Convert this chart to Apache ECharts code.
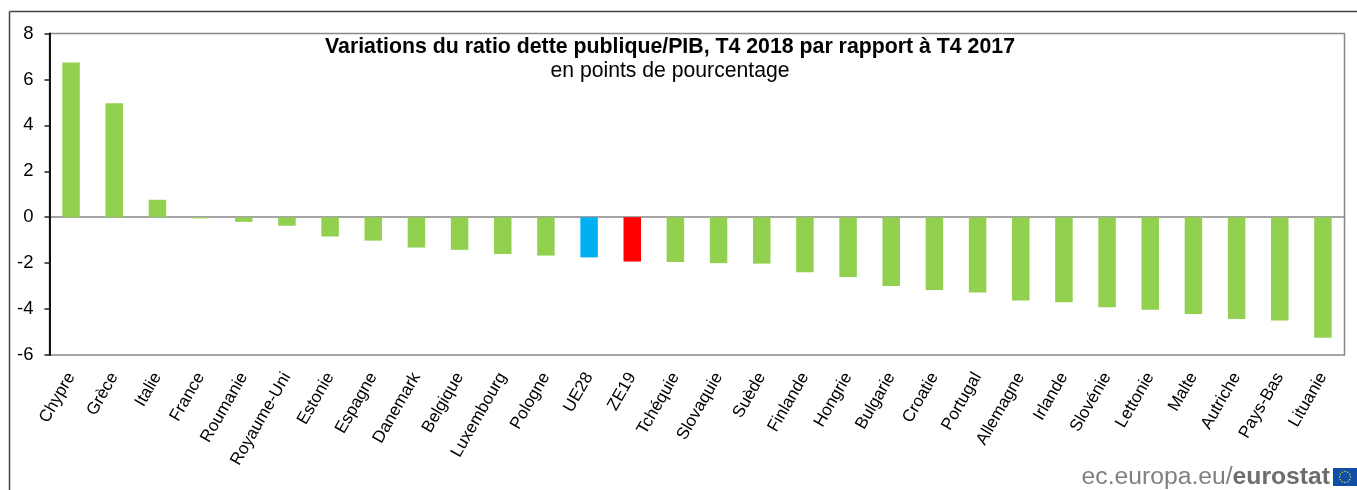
<!DOCTYPE html>
<html>
<head>
<meta charset="utf-8">
<script src="https://cdn.jsdelivr.net/npm/echarts@6/dist/echarts.min.js"></script>
<style>
  html, body { margin: 0; padding: 0; background: #fff; }
  #main { width: 1357px; height: 490px; }
</style>
</head>
<body>
<div id="main"></div>
<script>
  // pays, du plus haut au plus bas
  var countries = ['Chypre', 'Grèce', 'Italie', 'France', 'Roumanie', 'Royaume-Uni', 'Estonie', 'Espagne',
    'Danemark', 'Belgique', 'Luxembourg', 'Pologne', 'UE28', 'ZE19', 'Tchéquie', 'Slovaquie', 'Suède',
    'Finlande', 'Hongrie', 'Bulgarie', 'Croatie', 'Portugal', 'Allemagne', 'Irlande', 'Slovénie',
    'Lettonie', 'Malte', 'Autriche', 'Pays-Bas', 'Lituanie'];
  var ratioChange = [6.74, 4.96, 0.76, -0.05, -0.2, -0.37, -0.84, -1.02, -1.32, -1.42, -1.6, -1.67, -1.75,
    -1.93, -1.95, -2.0, -2.02, -2.4, -2.6, -3.0, -3.17, -3.28, -3.63, -3.7, -3.92, -4.03, -4.22, -4.43,
    -4.5, -5.25];
  var barColors = {UE28: '#00b0f0', ZE19: '#ff0000'};
  var defaultColor = '#92d050';
  var titleText = 'Variations du ratio dette publique/PIB, T4 2018 par rapport à T4 2017';
  var subtitleText = 'en points de pourcentage';
  var fontName = '"Liberation Sans", Arial, sans-serif';

  var chart = echarts.init(document.getElementById('main'), null, {renderer: 'canvas'});

  var graphics = [
    // cadre extérieur
    {type: 'line', shape: {x1: 9.5, y1: 11.5, x2: 1357, y2: 11.5}, style: {stroke: '#444', lineWidth: 1.5}},
    {type: 'line', shape: {x1: 9.5, y1: 11.5, x2: 9.5, y2: 490}, style: {stroke: '#444', lineWidth: 1.5}},
    // logo eurostat
    {
      type: 'text', right: 27, top: 465,
      style: {
        text: '{a|ec.europa.eu/}{b|eurostat}',
        rich: {
          a: {fontFamily: fontName, fontSize: 24.7, fill: '#808080'},
          b: {fontFamily: fontName, fontSize: 24.7, fontWeight: 'bold', fill: '#6d6d6d'}
        }
      }
    },
    {type: 'rect', shape: {x: 1333, y: 468, width: 24, height: 18}, style: {fill: '#0f4fa8'}}
  ];
  // étoiles du drapeau
  for (var i = 0; i < 12; i++) {
    var a = i / 12 * 2 * Math.PI;
    graphics.push({
      type: 'circle',
      shape: {cx: 1345 + 5.5 * Math.cos(a), cy: 477 + 5.5 * Math.sin(a), r: 0.8},
      style: {fill: '#d8c83a'}
    });
  }

  var option = {
    animation: false,
    backgroundColor: '#fff',
    title: {
      text: titleText,
      subtext: subtitleText,
      left: 670,
      top: 37,
      textAlign: 'center',
      itemGap: 3,
      padding: 0,
      textStyle: {fontFamily: fontName, fontSize: 21.3, fontWeight: 'bold', color: '#000'},
      subtextStyle: {fontFamily: fontName, fontSize: 21.2, color: '#000'}
    },
    grid: {left: 49.5, right: 12.5, top: 33.5, bottom: 135, show: true, borderColor: '#868686', borderWidth: 1.5, backgroundColor: '#fff'},
    xAxis: [
      {
        type: 'category',
        data: countries,
        position: 'bottom',
        axisLine: {show: false, onZero: false},
        axisTick: {show: false},
        axisLabel: {rotate: 60, interval: 0, margin: 19, fontFamily: fontName, fontSize: 17, color: '#000'}
      },
      {
        // ligne du zéro
        type: 'category',
        data: countries,
        axisLine: {show: true, onZero: true, lineStyle: {color: '#868686', width: 1.5}},
        axisTick: {show: false},
        axisLabel: {show: false}
      }
    ],
    yAxis: {
      type: 'value',
      min: -6,
      max: 8,
      interval: 2,
      z: 5,
      axisLine: {show: true, onZero: false, lineStyle: {color: '#111', width: 2}},
      axisTick: {show: true, inside: false, length: 5, lineStyle: {color: '#222', width: 1.5}},
      splitLine: {show: false},
      axisLabel: {margin: 16, fontFamily: fontName, fontSize: 18.5, color: '#000'}
    },
    series: [{
      type: 'bar',
      barWidth: 17.5,
      data: ratioChange.map(function (v, idx) {
        return {value: v, itemStyle: {color: barColors[countries[idx]] || defaultColor}};
      })
    }],
    graphic: graphics
  };
  chart.setOption(option);
</script>
</body>
</html>
